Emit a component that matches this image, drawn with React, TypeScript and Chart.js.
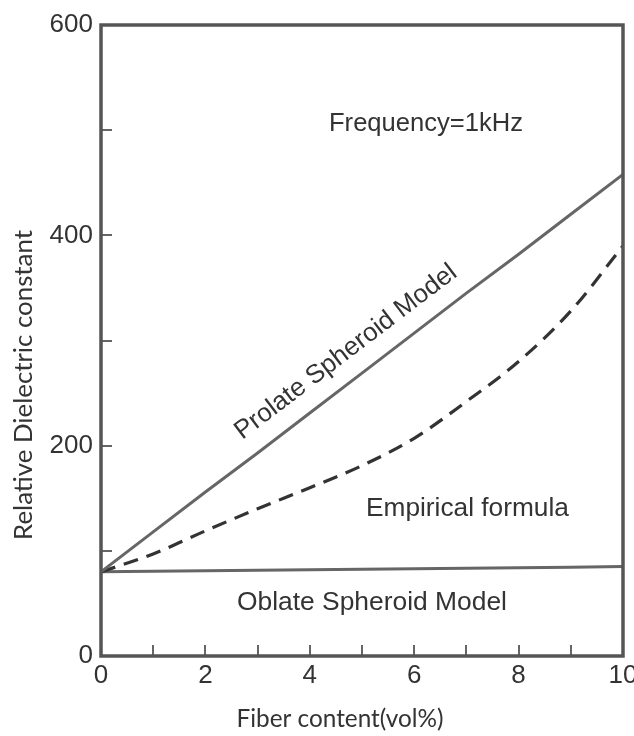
import React, { useEffect, useRef } from "react";
import { Chart, registerables } from "chart.js";

Chart.register(...registerables);

// ---- data ----
const fiberContent = [0, 1, 2, 3, 4, 5, 6, 7, 8, 9, 10];
const prolateModel = [80, 118, 156, 193, 231, 269, 307, 345, 382, 420, 458];
const empiricalFormula = [80, 97, 119, 140, 160, 181, 207, 242, 280, 328, 390];
const oblateModel = [80, 80.5, 81, 81.5, 82, 82.5, 83, 83.5, 84, 84.5, 85];

const xTickLabels = [0, 2, 4, 6, 8, 10];
const yTickLabels = [0, 200, 400, 600];
const xMinorTicks = [1, 2, 3, 4, 5, 6, 7, 8, 9];
const yMinorTicks = [100, 200, 300, 400, 500];

const xTitle = "Fiber content(vol%)";
const yTitle = "Relative Dielectric constant";
const freqLabel = "Frequency=1kHz";
const prolateLabel = "Prolate Spheroid Model";
const empiricalLabel = "Empirical formula";
const oblateLabel = "Oblate Spheroid Model";

const TEXT = "#333333";
const ARIAL = '"Liberation Sans", Arial, sans-serif';
const TITLE_FONT = 'Lato, "Open Sans", sans-serif';

function fitFont(ctx: CanvasRenderingContext2D, text: string, family: string, target: number) {
  ctx.font = `20px ${family}`;
  const w = ctx.measureText(text).width;
  const size = (20 * target) / w;
  ctx.font = `${size.toFixed(2)}px ${family}`;
}

const decorPlugin = {
  id: "decor",
  afterDatasetsDraw(chart: any) {
    const { ctx, chartArea, scales } = chart;
    const xs = scales.x;
    const ys = scales.y;
    ctx.save();

    // minor tick marks (inside)
    ctx.strokeStyle = "#666";
    ctx.lineWidth = 2;
    for (const v of xMinorTicks) {
      const px = Math.round(xs.getPixelForValue(v));
      ctx.beginPath();
      ctx.moveTo(px, chartArea.bottom);
      ctx.lineTo(px, chartArea.bottom - 11);
      ctx.stroke();
    }
    for (const v of yMinorTicks) {
      const py = Math.round(ys.getPixelForValue(v));
      ctx.beginPath();
      ctx.moveTo(chartArea.left, py);
      ctx.lineTo(chartArea.left + 11, py);
      ctx.stroke();
    }

    // frame
    ctx.strokeStyle = "#555";
    ctx.lineWidth = 3.5;
    ctx.strokeRect(
      chartArea.left,
      chartArea.top,
      chartArea.right - chartArea.left,
      chartArea.bottom - chartArea.top
    );

    // annotations
    ctx.fillStyle = TEXT;
    ctx.textAlign = "left";
    ctx.textBaseline = "alphabetic";
    fitFont(ctx, freqLabel, ARIAL, 194);
    ctx.fillText(freqLabel, 329, 131);
    fitFont(ctx, empiricalLabel, ARIAL, 203);
    ctx.fillText(empiricalLabel, 366, 516);
    fitFont(ctx, oblateLabel, ARIAL, 270);
    ctx.fillText(oblateLabel, 237, 610);

    // rotated prolate label, angle from the line itself
    const x0 = xs.getPixelForValue(fiberContent[0]);
    const x1 = xs.getPixelForValue(fiberContent[fiberContent.length - 1]);
    const y0 = ys.getPixelForValue(prolateModel[0]);
    const y1 = ys.getPixelForValue(prolateModel[prolateModel.length - 1]);
    const ang = Math.atan2(y1 - y0, x1 - x0);
    ctx.save();
    ctx.translate(346, 352);
    ctx.rotate(ang);
    ctx.textAlign = "center";
    ctx.textBaseline = "middle";
    ctx.font = `26px ${ARIAL}`;
    ctx.fillText(prolateLabel, 0, 0);
    ctx.restore();

    // axis titles
    ctx.fillStyle = TEXT;
    ctx.textAlign = "center";
    ctx.textBaseline = "middle";
    fitFont(ctx, xTitle, TITLE_FONT, 207);
    ctx.fillText(xTitle, 340, 719);
    ctx.save();
    ctx.translate(24, 385);
    ctx.rotate(-Math.PI / 2);
    fitFont(ctx, yTitle, TITLE_FONT, 310);
    ctx.fillText(yTitle, 0, 0);
    ctx.restore();

    ctx.restore();
  },
};

export default function App() {
  const ref = useRef<HTMLCanvasElement | null>(null);

  useEffect(() => {
    if (!ref.current) return;
    const toXY = (arr: number[]) => fiberContent.map((x, i) => ({ x, y: arr[i] }));
    const chart = new Chart(ref.current, {
      type: "line",
      data: {
        datasets: [
          {
            label: prolateLabel,
            data: toXY(prolateModel),
            borderColor: "#666666",
            borderWidth: 3,
            pointRadius: 0,
            tension: 0,
          },
          {
            label: empiricalLabel,
            data: toXY(empiricalFormula),
            borderColor: "#333333",
            borderWidth: 3.2,
            borderDash: [15, 9],
            pointRadius: 0,
            cubicInterpolationMode: "monotone",
          },
          {
            label: oblateLabel,
            data: toXY(oblateModel),
            borderColor: "#666666",
            borderWidth: 3,
            pointRadius: 0,
            tension: 0,
          },
        ],
      },
      options: {
        animation: false,
        responsive: false,
        devicePixelRatio: 1,
        layout: { padding: { left: 0, top: 25, right: 11, bottom: 0 } },
        plugins: {
          legend: { display: false },
          tooltip: { enabled: false },
        },
        scales: {
          x: {
            type: "linear",
            min: 0,
            max: 10,
            grid: { display: false, drawTicks: false },
            border: { display: false },
            afterBuildTicks: (s: any) => {
              s.ticks = xTickLabels.map((v) => ({ value: v }));
            },
            afterFit: (s: any) => {
              s.height = 80;
              s.paddingLeft = 0;
              s.paddingRight = 0;
            },
            ticks: {
              color: TEXT,
              padding: 4,
              maxRotation: 0,
              autoSkip: false,
              font: { size: 26, family: ARIAL },
            },
          },
          y: {
            type: "linear",
            min: 0,
            max: 600,
            grid: { display: false, drawTicks: false },
            border: { display: false },
            afterBuildTicks: (s: any) => {
              s.ticks = yTickLabels.map((v) => ({ value: v }));
            },
            afterFit: (s: any) => {
              s.width = 101;
              s.paddingTop = 0;
              s.paddingBottom = 0;
            },
            ticks: {
              color: TEXT,
              padding: 8,
              autoSkip: false,
              font: { size: 26, family: ARIAL },
            },
          },
        },
      },
      plugins: [decorPlugin],
    });
    return () => chart.destroy();
  }, []);

  return (
    <div style={{ position: "absolute", left: 0, top: 0, width: 634, height: 736, background: "#fff" }}>
      <canvas ref={ref} width={634} height={736} />
    </div>
  );
}
